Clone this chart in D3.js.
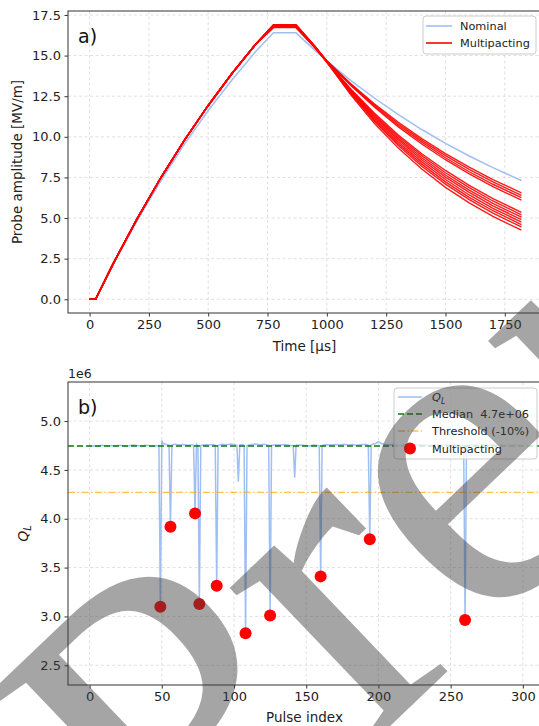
<!DOCTYPE html>
<html lang="en">
<head>
<meta charset="UTF-8">
<title>Multipacting</title>
<script src="https://d3js.org/d3.v7.min.js"></script>
<style>
  body { margin: 0; background: #fff; }
  svg { display: block; font-family: 'DejaVu Sans', sans-serif; }
</style>
</head>
<body>
<svg></svg>
<script>
  // (a) probe amplitude traces [MV/m]
  const timeUs = [0, 25, 100, 200, 300, 400, 500, 600, 700, 775, 870, 950, 1000, 1100, 1200, 1300, 1400, 1500, 1600, 1700, 1820]
  const nominal = [0, 0, 2.15, 4.82, 7.28, 9.55, 11.62, 13.5, 15.25, 16.4, 16.4, 15.32, 14.68, 13.48, 12.39, 11.38, 10.45, 9.6, 8.82, 8.1, 7.31]
  const multipacting = [
    [0, 0, 2.21, 4.95, 7.48, 9.80, 11.93, 13.90, 15.70, 16.88, 16.88, 15.56, 14.68, 13.28, 12.04, 10.91, 9.89, 8.97, 8.13, 7.37, 6.55],
    [0, 0, 2.21, 4.95, 7.48, 9.80, 11.93, 13.90, 15.70, 16.85, 16.85, 15.55, 14.66, 13.24, 11.97, 10.82, 9.78, 8.84, 7.99, 7.22, 6.40],
    [0, 0, 2.21, 4.95, 7.48, 9.80, 11.93, 13.90, 15.70, 16.80, 16.80, 15.52, 14.65, 13.20, 11.90, 10.73, 9.67, 8.71, 7.85, 7.08, 6.25],
    [0, 0, 2.21, 4.95, 7.48, 9.80, 11.93, 13.90, 15.70, 16.90, 16.90, 15.57, 14.66, 13.17, 11.83, 10.63, 9.56, 8.59, 7.72, 6.94, 6.10],
    [0, 0, 2.21, 4.95, 7.48, 9.80, 11.93, 13.90, 15.70, 16.78, 16.78, 15.50, 14.62, 12.96, 11.46, 10.13, 8.96, 7.93, 7.01, 6.20, 5.35],
    [0, 0, 2.21, 4.95, 7.48, 9.80, 11.93, 13.90, 15.70, 16.82, 16.82, 15.53, 14.64, 12.91, 11.38, 10.03, 8.84, 7.79, 6.87, 6.05, 5.20],
    [0, 0, 2.21, 4.95, 7.48, 9.80, 11.93, 13.90, 15.70, 16.86, 16.86, 15.55, 14.63, 12.87, 11.30, 9.92, 8.71, 7.65, 6.72, 5.90, 5.05],
    [0, 0, 2.21, 4.95, 7.48, 9.80, 11.93, 13.90, 15.70, 16.75, 16.75, 15.49, 14.60, 12.82, 11.22, 9.82, 8.59, 7.52, 6.58, 5.75, 4.90],
    [0, 0, 2.21, 4.95, 7.48, 9.80, 11.93, 13.90, 15.70, 16.80, 16.80, 15.52, 14.62, 12.77, 11.13, 9.70, 8.46, 7.37, 6.42, 5.60, 4.75],
    [0, 0, 2.21, 4.95, 7.48, 9.80, 11.93, 13.90, 15.70, 16.84, 16.84, 15.54, 14.61, 12.72, 11.04, 9.59, 8.32, 7.23, 6.27, 5.45, 4.60],
    [0, 0, 2.21, 4.95, 7.48, 9.80, 11.93, 13.90, 15.70, 16.72, 16.72, 15.47, 14.58, 12.67, 10.96, 9.48, 8.19, 7.09, 6.13, 5.30, 4.45],
    [0, 0, 2.21, 4.95, 7.48, 9.80, 11.93, 13.90, 15.70, 16.88, 16.88, 15.56, 14.60, 12.60, 10.84, 9.32, 8.02, 6.89, 5.93, 5.10, 4.25]
  ]
  const timeTicks = [0, 250, 500, 750, 1000, 1250, 1500, 1750]
  const ampTicks = [0, 2.5, 5, 7.5, 10, 12.5, 15, 17.5]

  // (b) loaded quality factor per pulse, in units of 1e6
  const qlSeries = [
    [0,4.740],[3,4.748],[6,4.745],[9,4.752],[12,4.746],[15,4.750],[18,4.744],[21,4.752],[24,4.748],[27,4.745],
    [30,4.754],[33,4.750],[36,4.746],[39,4.752],[42,4.748],[45,4.745],[48,4.750],[49,3.100],[50,4.800],[51,4.770],
    [53,4.760],[55,4.755],[56,3.918],[57,4.755],[59,4.762],[62,4.756],[65,4.760],[68,4.752],[71,4.758],[72,4.750],
    [73,4.055],[74,4.762],[75,4.748],[76,3.127],[77,4.750],[80,4.758],[83,4.754],[86,4.760],[87,4.750],[88,3.315],
    [89,4.752],[92,4.762],[95,4.758],[98,4.765],[101,4.756],[102,4.752],[103,4.380],[104,4.756],[106,4.760],[107,4.745],
    [108,2.827],[109,4.750],[112,4.760],[115,4.766],[118,4.758],[121,4.762],[124,4.752],[125,3.010],[126,4.750],[129,4.758],
    [132,4.754],[135,4.760],[138,4.752],[141,4.748],[142,4.420],[143,4.752],[146,4.756],[149,4.750],[152,4.746],[155,4.754],
    [158,4.750],[159,4.745],[160,3.410],[161,4.752],[164,4.758],[167,4.754],[170,4.760],[173,4.756],[176,4.762],[179,4.755],
    [182,4.760],[185,4.752],[188,4.758],[191,4.762],[193,4.752],[194,3.790],[195,4.760],[198,4.770],[200,4.790],[202,4.770],
    [205,4.760],[208,4.755],[211,4.762],[214,4.756],[217,4.760],[220,4.752],[223,4.758],[226,4.754],[229,4.760],[232,4.756],
    [235,4.750],[238,4.758],[241,4.754],[244,4.760],[247,4.752],[250,4.756],[253,4.760],[256,4.754],[259,4.750],[260,2.964],
    [261,4.752],[264,4.758],[267,4.754],[270,4.760],[273,4.756],[276,4.752],[279,4.758],[282,4.754],[285,4.760],[288,4.756],
    [291,4.752],[294,4.758],[297,4.754],[299,4.756]
  ]
  const mpPulse = [49, 56, 73, 76, 88, 108, 125, 160, 194, 260]
  const mpQl = [3.100, 3.918, 4.055, 3.127, 3.315, 2.827, 3.010, 3.410, 3.790, 2.964]
  const qlMedian = 4.745
  const qlThreshold = 4.27
  const pulseTicks = [0, 50, 100, 150, 200, 250, 300]
  const qlTicks = [2.5, 3.0, 3.5, 4.0, 4.5, 5.0]

  const blueC = '#9fbff3'
  const width = 539, height = 726

  const svg = d3.select('svg').attr('width', width).attr('height', height)

  const boxA = { l: 68, r: 543, t: 11, b: 313 }
  const boxB = { l: 68, r: 543, t: 382, b: 685 }

  const xA = d3.scaleLinear().domain([-91, 1911]).range([boxA.l, boxA.r])
  const yA = d3.scaleLinear().domain([-0.845, 17.745]).range([boxA.b, boxA.t])
  const xB = d3.scaleLinear().domain([-14.95, 313.95]).range([boxB.l, boxB.r])
  const yB = d3.scaleLinear().domain([2.298, 5.4]).range([boxB.b, boxB.t])

  // axes frame, grid and ticks for one panel
  function frame(box, x, y, xt, yt, id) {
    const g = svg.append('g')
    svg.append('clipPath').attr('id', id).append('rect')
      .attr('x', box.l).attr('y', box.t).attr('width', box.r - box.l).attr('height', box.b - box.t)

    const grid = g.append('g').attr('stroke', '#d8d8d8').attr('stroke-width', 0.8).attr('stroke-dasharray', '3,2.5')
    grid.selectAll('.gx').data(xt).join('line')
      .attr('x1', d => x(d)).attr('x2', d => x(d)).attr('y1', box.t).attr('y2', box.b)
    grid.selectAll('.gy').data(yt).join('line')
      .attr('y1', d => y(d)).attr('y2', d => y(d)).attr('x1', box.l).attr('x2', box.r)

    const ax = g.append('g').attr('transform', `translate(0,${box.b})`)
      .call(d3.axisBottom(x).tickValues(xt).tickSize(3.5).tickPadding(3.5).tickSizeOuter(0).tickFormat(d3.format('d')))
    const ay = g.append('g').attr('transform', `translate(${box.l},0)`)
      .call(d3.axisLeft(y).tickValues(yt).tickSize(3.5).tickPadding(3.5).tickSizeOuter(0).tickFormat(d3.format('.1f')))
    for (const a of [ax, ay]) {
      a.attr('font-size', 13).attr('font-family', 'DejaVu Sans')
      a.select('.domain').remove()
      a.selectAll('line').attr('stroke', '#333')
      a.selectAll('text').attr('fill', '#222')
    }
    return g
  }

  function spines(box) {
    svg.append('rect').attr('x', box.l).attr('y', box.t)
      .attr('width', box.r - box.l).attr('height', box.b - box.t)
      .attr('fill', 'none').attr('stroke', '#444').attr('stroke-width', 1.1)
  }

  function legendBox(x, y, w, h) {
    return svg.append('rect').attr('x', x).attr('y', y).attr('width', w).attr('height', h).attr('rx', 3)
      .attr('fill', 'white').attr('fill-opacity', 0.8).attr('stroke', '#cccccc').attr('stroke-width', 1)
  }

  // ---------- panel a ----------
  frame(boxA, xA, yA, timeTicks, ampTicks, 'clipA')

  const lineA = d3.line().x((d, i) => xA(timeUs[i])).y(d => yA(d))
  const plotA = svg.append('g').attr('clip-path', 'url(#clipA)')
  plotA.append('path').datum(nominal).attr('d', lineA)
    .attr('fill', 'none').attr('stroke', blueC).attr('stroke-width', 1.5)
  plotA.selectAll('.mp').data(multipacting).join('path').attr('d', lineA)
    .attr('fill', 'none').attr('stroke', '#ff0000').attr('stroke-width', 1.4).attr('stroke-opacity', 0.9)
  spines(boxA)

  svg.append('text').attr('x', 78).attr('y', 43).attr('font-size', 19).attr('fill', '#111').text('a)')

  svg.append('text').attr('transform', `translate(22,${(boxA.t + boxA.b) / 2}) rotate(-90)`)
    .attr('text-anchor', 'middle').attr('font-size', 13.5).attr('fill', '#222').text('Probe amplitude [MV/m]')
  svg.append('text').attr('x', (boxA.l + boxA.r) / 2 - 1).attr('y', 351)
    .attr('text-anchor', 'middle').attr('font-size', 13.5).attr('fill', '#222').text('Time [µs]')

  legendBox(423, 16, 113, 38)
  const legA = [
    { label: 'Nominal', color: blueC, y: 26 },
    { label: 'Multipacting', color: '#ff0000', y: 43 }
  ]
  legA.forEach(d => {
    svg.append('line').attr('x1', 426).attr('x2', 452).attr('y1', d.y).attr('y2', d.y)
      .attr('stroke', d.color).attr('stroke-width', 1.6)
    svg.append('text').attr('x', 460).attr('y', d.y).attr('dy', '0.36em')
      .attr('font-size', 11.3).attr('fill', '#222').text(d.label)
  })

  // ---------- panel b ----------
  frame(boxB, xB, yB, pulseTicks, qlTicks, 'clipB')

  const plotB = svg.append('g').attr('clip-path', 'url(#clipB)')
  plotB.append('path').datum(qlSeries)
    .attr('d', d3.line().x(d => xB(d[0])).y(d => yB(d[1])))
    .attr('fill', 'none').attr('stroke', blueC).attr('stroke-width', 1.5)
  plotB.append('line').attr('x1', boxB.l).attr('x2', boxB.r).attr('y1', yB(qlMedian)).attr('y2', yB(qlMedian))
    .attr('stroke', '#0a7a0a').attr('stroke-width', 1.6).attr('stroke-dasharray', '6,3')
  plotB.append('line').attr('x1', boxB.l).attr('x2', boxB.r).attr('y1', yB(qlThreshold)).attr('y2', yB(qlThreshold))
    .attr('stroke', '#ffa500').attr('stroke-opacity', 0.7).attr('stroke-width', 1.3).attr('stroke-dasharray', '7,2.5,1.5,2.5')
  plotB.selectAll('.mk').data(mpPulse).join('circle')
    .attr('cx', d => xB(d)).attr('cy', (d, i) => yB(mpQl[i])).attr('r', 6).attr('fill', '#ff0000')
  spines(boxB)

  svg.append('text').attr('x', boxB.l).attr('y', 378).attr('font-size', 12.5).attr('fill', '#222').text('1e6')
  svg.append('text').attr('x', 78).attr('y', 414).attr('font-size', 19).attr('fill', '#111').text('b)')

  const qlab = svg.append('text').attr('transform', `translate(28,${(boxB.t + boxB.b) / 2}) rotate(-90)`)
    .attr('text-anchor', 'middle').attr('font-size', 14).attr('fill', '#222')
  qlab.append('tspan').attr('font-style', 'italic').text('Q')
  qlab.append('tspan').attr('font-style', 'italic').attr('font-size', 10).attr('dy', 3).text('L')
  svg.append('text').attr('x', (boxB.l + boxB.r) / 2 - 1).attr('y', 722)
    .attr('text-anchor', 'middle').attr('font-size', 13.5).attr('fill', '#222').text('Pulse index')

  legendBox(394, 388, 143, 71)
  const lx1 = 398, lx2 = 422, tx = 432
  svg.append('line').attr('x1', lx1).attr('x2', lx2).attr('y1', 397).attr('y2', 397)
    .attr('stroke', blueC).attr('stroke-width', 1.5)
  const q = svg.append('text').attr('x', tx).attr('y', 397).attr('dy', '0.36em').attr('font-size', 11.3).attr('fill', '#222')
  q.append('tspan').attr('font-style', 'italic').text('Q')
  q.append('tspan').attr('font-style', 'italic').attr('font-size', 8).attr('dy', 2.5).text('L')

  svg.append('line').attr('x1', lx1).attr('x2', lx2).attr('y1', 414).attr('y2', 414)
    .attr('stroke', '#0a7a0a').attr('stroke-width', 1.6).attr('stroke-dasharray', '6,3')
  svg.append('text').attr('x', tx).attr('y', 414).attr('dy', '0.36em').attr('font-size', 11.3).attr('fill', '#222')
    .style('white-space', 'pre').text('Median  4.7e+06')

  svg.append('line').attr('x1', lx1).attr('x2', lx2).attr('y1', 431).attr('y2', 431)
    .attr('stroke', '#ffa500').attr('stroke-opacity', 0.7).attr('stroke-width', 1.3).attr('stroke-dasharray', '7,2.5,1.5,2.5')
  svg.append('text').attr('x', tx).attr('y', 431).attr('dy', '0.36em').attr('font-size', 11.3).attr('fill', '#222')
    .text('Threshold (-10%)')

  svg.append('circle').attr('cx', (lx1 + lx2) / 2).attr('cy', 448.5).attr('r', 6).attr('fill', '#ff0000')
  svg.append('text').attr('x', tx).attr('y', 448.5).attr('dy', '0.36em').attr('font-size', 11.3).attr('fill', '#222')
    .text('Multipacting')

  // page watermark over the whole figure
  svg.append('text').attr('transform', 'translate(184,923) rotate(-43.7)')
    .attr('font-family', 'Liberation Serif').attr('font-size', 459)
    .attr('fill', '#404040').attr('fill-opacity', 0.47).text('Preprint')
</script>
</body>
</html>
